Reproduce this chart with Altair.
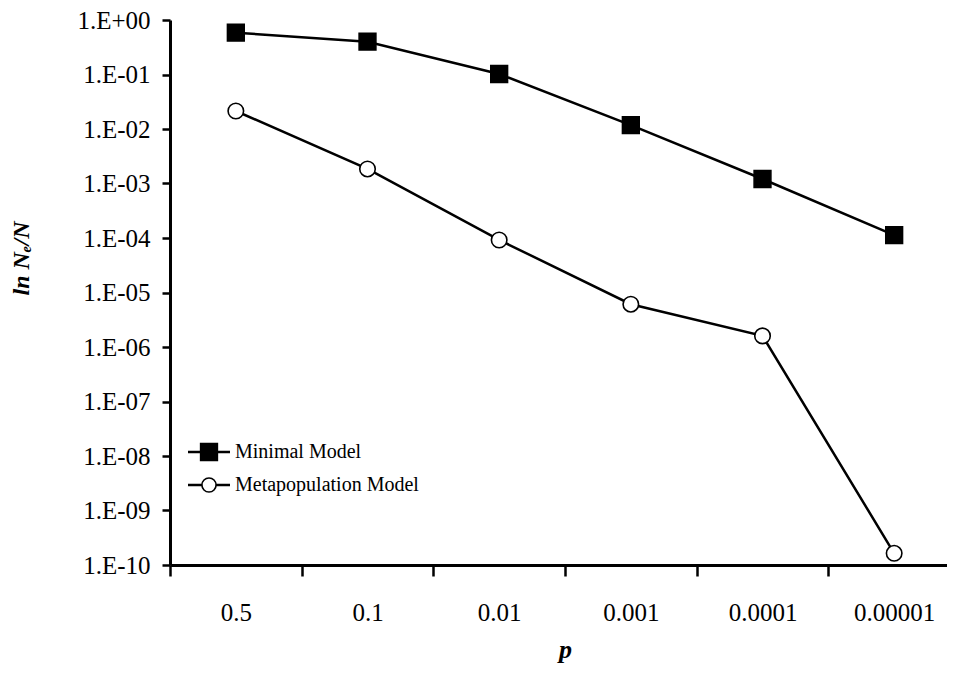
import altair as alt
import pandas as pd
import json

# ---- data ----
categories = ["0.5", "0.1", "0.01", "0.001", "0.0001", "0.00001"]
series_names = ["Minimal Model", "Metapopulation Model"]
minimal_values = [0.585, 0.40, 0.102, 0.0118, 0.00121, 0.000113]
metapop_values = [0.0214, 0.00185, 0.000092, 0.0000061, 0.0000016, 1.64e-10]
y_tick_values = [1, 1e-1, 1e-2, 1e-3, 1e-4, 1e-5, 1e-6, 1e-7, 1e-8, 1e-9, 1e-10]
y_tick_labels = ["1.E+00", "1.E-01", "1.E-02", "1.E-03", "1.E-04", "1.E-05",
                 "1.E-06", "1.E-07", "1.E-08", "1.E-09", "1.E-10"]

rows = []
for c, v in zip(categories, minimal_values):
    rows.append({"p": c, "value": v, "series": series_names[0]})
for c, v in zip(categories, metapop_values):
    rows.append({"p": c, "value": v, "series": series_names[1]})
df = pd.DataFrame(rows)

FONT = "Liberation Serif"
W = 777
H = 545

label_expr = json.dumps(y_tick_labels) + "[round(-log(datum.value)/LN10)]"

x_enc = alt.X(
    "p:N",
    sort=categories,
    scale=alt.Scale(type="band", domain=categories, range=[0, 790],
                    paddingInner=0, paddingOuter=0),
    axis=alt.Axis(
        title="p", titleFont=FONT, titleFontSize=26, titleFontWeight="bold",
        titleFontStyle="italic", titleColor="black", titleY=84,
        titleBaseline="middle", titleX=395, titleAlign="center",
        labelFont=FONT, labelFontSize=25, labelColor="black", labelAngle=0,
        labelBaseline="top", labelPadding=24,
        tickBand="extent", tickSize=11, tickWidth=2.5, tickColor="black",
        domainWidth=3, domainColor="black", grid=False,
    ),
)
y_enc = alt.Y(
    "value:Q",
    scale=alt.Scale(type="log", domain=[1e-10, 1]),
    axis=alt.Axis(
        title="ln Nₑ/N", titleFont=FONT, titleFontSize=24, titleFontWeight="bold",
        titleFontStyle="italic", titleColor="black", titleX=-149, titleY=238,
        titleAngle=270, titleAlign="center", titleBaseline="middle",
        values=y_tick_values, labelExpr=label_expr,
        labelFont=FONT, labelFontSize=25, labelColor="black",
        labelPadding=12, tickSize=8, tickWidth=2.5, tickColor="black",
        domainWidth=3, domainColor="black", grid=False,
    ),
)

layers = []
for name, shape, fill in [(series_names[0], "square", "black"),
                          (series_names[1], "circle", "white")]:
    sub = df[df["series"] == name]
    base = alt.Chart(sub)
    layers.append(base.mark_line(color="black", strokeWidth=2.5).encode(x=x_enc, y=y_enc))
    size = 280 if shape == "square" else 240
    layers.append(base.mark_point(shape=shape, filled=True, fill=fill, stroke="black",
                                  strokeWidth=1.6, size=size, opacity=1)
                  .encode(x=x_enc, y=y_enc))

# manual legend (line + marker + label)
leg_rows = [(series_names[0], "square", "black", 432, 280),
            (series_names[1], "circle", "white", 465, 200)]
for name, shape, fill, yy, size in leg_rows:
    ldf = pd.DataFrame({"label": [name]})
    lb = alt.Chart(ldf)
    layers.append(lb.mark_rule(color="black", strokeWidth=2.5).encode(
        x=alt.value(18), x2=alt.value(60), y=alt.value(yy)))
    layers.append(lb.mark_point(shape=shape, filled=True, fill=fill, stroke="black",
                                strokeWidth=1.6, size=size, opacity=1).encode(
        x=alt.value(39), y=alt.value(yy)))
    layers.append(lb.mark_text(align="left", baseline="middle", font=FONT,
                               fontSize=20, color="black").encode(
        x=alt.value(65), y=alt.value(yy), text="label:N"))

chart = alt.layer(*layers).properties(
    width=W, height=H,
    autosize=alt.AutoSizeParams(type="none"),
    padding={"left": 162, "top": 12, "right": 0, "bottom": 102},
    background="white",
).configure_view(stroke=None)

chart.save("out.html", embed_options={"renderer": "svg", "actions": False})
